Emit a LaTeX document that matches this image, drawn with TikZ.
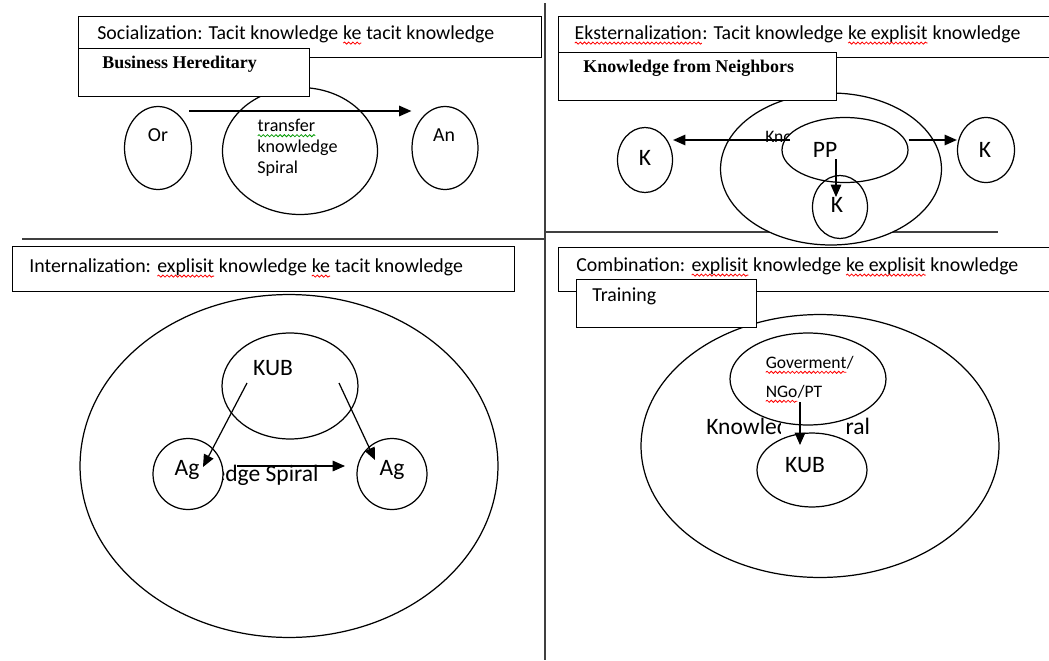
\documentclass[tikz,border=0pt]{standalone}
\usepackage{fontspec}
\setmainfont{Carlito}
\newfontfamily\timesfont{Liberation Serif}
\usetikzlibrary{shapes.geometric,arrows.meta,decorations.pathmorphing}
\tikzstyle{bx}=[draw,fill=white,line width=0.8pt,anchor=north west,inner sep=0pt]
\tikzstyle{el}=[ellipse,draw,line width=0.7pt,inner sep=0pt]
\tikzstyle{wel}=[el,fill=white]
\tikzstyle{hd}=[anchor=west,inner sep=0pt,font=\fontsize{11.3}{13}\selectfont]
\tikzstyle{sm}=[anchor=west,inner sep=0pt,font=\fontsize{10}{12}\selectfont]
\tikzstyle{bt}=[anchor=west,inner sep=0pt,font=\timesfont\bfseries\fontsize{10.2}{12}\selectfont]
\tikzstyle{lb}=[inner sep=0pt,font=\fontsize{13.4}{16}\selectfont]
\tikzstyle{arr}=[-{Triangle[length=7pt,width=6pt]},line width=0.7pt]
\tikzstyle{dv}=[line width=1pt,black!75]
\tikzstyle{wave}=[line width=0.45pt,decorate,decoration={snake,amplitude=0.6pt,segment length=2.4pt}]
\newcommand\squiggle[2]{\tikz[baseline=(w.base),x=1cm,y=1cm]{\node[rectangle,draw=none,fill=none,inner sep=0pt,outer sep=0pt,anchor=base] (w) at (0,0) {#2};\draw[wave,#1] ([yshift=-2.2pt]w.base west) -- ([yshift=-2.2pt]w.base east);}}
\newcommand\spellwave[1]{\squiggle{red}{#1}}
\newcommand\grammarwave[1]{\squiggle{green!60!black}{#1}}

\begin{document}
\begin{tikzpicture}[x=0.02cm,y=-0.02cm]
\useasboundingbox (0,0) rectangle (1049,660);
\draw[dv] (22,239) -- (545,239);
\draw[dv] (545,232) -- (998,232);
\draw[dv] (545,3) -- (545,660);

\node[el,minimum width=1.34cm,minimum height=1.66cm] (or) at (158,148) {};
\node[el,minimum width=3.10cm,minimum height=2.54cm] (mid) at (300,151) {};
\node[el,minimum width=1.32cm,minimum height=1.66cm] (an) at (445,148) {};
\node[hd,anchor=center] (ort) at (158,135) {Or};
\node[hd,anchor=center] (ant) at (444,135) {An};
\node[sm,font=\fontsize{10.3}{11.9}\selectfont,align=left] (tks) at (257,148) {\grammarwave{transfer}\\knowledge\\Spiral};
\coordinate (s1) at (189,111);
\draw[arr] (s1) -- (s1 -| an.west);
\node[bx,minimum width=9.26cm,minimum height=0.82cm] (soc) at (78,16) {};
\node[hd] (soct) at (97,35) {Socialization: Tacit knowledge \spellwave{ke} tacit knowledge};
\node[bx,minimum width=4.62cm,minimum height=0.96cm] (bus) at (78,48) {};
\node[bt] (bust) at (102,64) {Business Hereditary};

\node[wel,minimum width=4.42cm,minimum height=3.04cm] (big2) at (831,169) {};
\node[sm] (sp2) at (765,138) {Knowledge Spiral};
\node[wel,minimum width=2.52cm,minimum height=1.30cm] (pp) at (845,150) {};
\node[el,minimum width=1.10cm,minimum height=1.26cm] (kb) at (840,207) {};
\node[el,minimum width=1.10cm,minimum height=1.30cm] (kl) at (645,160) {};
\node[el,minimum width=1.14cm,minimum height=1.30cm] (kr) at (986,150) {};
\node[lb] (ppt) at (825,150) {PP};
\node[lb] (kbt) at (837,205) {K};
\node[lb] (klt) at (645,158) {K};
\node[lb] (krt) at (985,150) {K};
\coordinate (s2) at (790,140);
\coordinate (s3) at (836,159);
\coordinate (e3) at (836,197);
\draw[arr] (s2) -- (s2 -| kl.east);
\draw[arr] (pp.east |- s2) -- (s2 -| kr.west);
\draw[arr] (s3) -- (e3);
\node[bx,minimum width=10.04cm,minimum height=0.82cm] (eks) at (558,16) {};
\node[hd] (ekst) at (574,35) {\spellwave{Eksternalization}: Tacit knowledge \spellwave{ke explisit} knowledge};
\node[bx,minimum width=5.56cm,minimum height=0.96cm] (kfn) at (558,52) {};
\node[bt] (kfnt) at (583,68) {Knowledge from Neighbors};

\node[bx,minimum width=10.04cm,minimum height=0.90cm] (int) at (12,246) {};
\node[hd] (intt) at (29,268) {Internalization: \spellwave{explisit} knowledge \spellwave{ke} tacit knowledge};
\node[el,minimum width=8.36cm,minimum height=6.86cm] (big3) at (289,466) {};
\node[lb,anchor=east] (sp3) at (319,475) {Knowledge Spiral};
\node[el,minimum width=2.72cm,minimum height=2.12cm] (kub3) at (290,386) {};
\node[wel,minimum width=1.40cm,minimum height=1.42cm] (agl) at (188,474) {};
\node[wel,minimum width=1.40cm,minimum height=1.42cm] (agr) at (392,474) {};
\node[lb] (kub3t) at (273,368) {KUB};
\node[lb] (aglt) at (187,470) {Ag};
\node[lb] (agrt) at (392,470) {Ag};
\coordinate (s4) at (247,383);
\coordinate (e4) at (203,467);
\coordinate (s5) at (339,383);
\coordinate (e5) at (375,460);
\coordinate (s6) at (237,466);
\coordinate (e6) at (345,466);
\draw[arr] (s4) -- (e4);
\draw[arr] (s5) -- (e5);
\draw[arr] (s6) -- (e6);

\node[el,minimum width=7.16cm,minimum height=5.26cm] (big4) at (820,446) {};
\node[lb,anchor=west] (sp4) at (706,428) {Knowledge Spiral};
\fill[white] (781,416) rectangle (846,441);
\node[wel,minimum width=3.12cm,minimum height=1.84cm] (gov) at (808,379) {};
\node[wel,minimum width=2.20cm,minimum height=1.48cm] (kub4) at (812,470) {};
\node[sm] (govt) at (765,365) {\spellwave{Goverment}/};
\node[sm] (ngot) at (765,394) {\spellwave{NGo}/PT};
\node[lb] (kub4t) at (805,465) {KUB};
\coordinate (s7) at (800,402);
\coordinate (e7) at (800,445);
\draw[arr] (s7) -- (e7);
\node[bx,minimum width=10.04cm,minimum height=0.88cm] (comb) at (558,247) {};
\node[hd] (combt) at (576,267) {Combination: \spellwave{explisit} knowledge \spellwave{ke explisit} knowledge};
\node[bx,minimum width=3.60cm,minimum height=0.96cm] (tr) at (576,279) {};
\node[hd] (trt) at (592,296) {Training};
\end{tikzpicture}
\end{document}
